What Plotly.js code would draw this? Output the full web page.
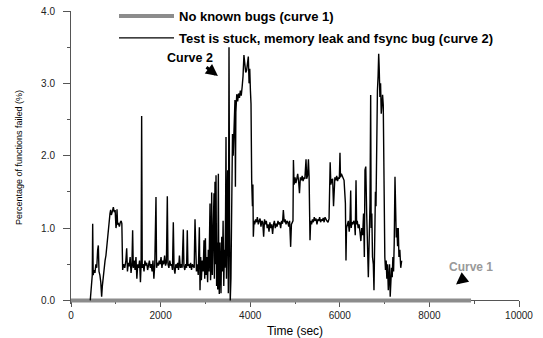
<!DOCTYPE html>
<html>
<head>
<meta charset="utf-8">
<script src="https://cdn.plot.ly/plotly-3.0.1.min.js"></script>
<style>html,body{margin:0;padding:0;background:#fff;}#chart{width:543px;height:338px;}</style>
</head>
<body>
<div id="chart"></div>
<script>
// Curve 1: no known bugs
const curve1Time = [0, 8930];
const curve1Pct = [0, 0];

// Curve 2: test is stuck, memory leak and fsync bug
const curve2Time = [
  430,460,475,484,495,515,535,555,575,595,610,625,645,665,684,700,720,740,760,780,
  800,818,835,855,870,885,900,920,945,965,985,1004,1015,1027,1040,1060,1080,1100,1120,1135,
  1153,1175,1200,1225,1243,1260,1280,1300,1320,1340,1360,1376,1390,1410,1430,1450,1470,1490,1510,1530,
  1550,1565,1577,1590,1610,1630,1650,1670,1690,1710,1730,1750,1770,1790,1810,1830,1850,1870,1897,1910,
  1930,1950,1970,1990,2010,2030,2050,2070,2090,2110,2130,2150,2165,2185,2205,2225,2245,2265,2284,2300,
  2320,2340,2360,2380,2400,2420,2440,2460,2480,2507,2520,2540,2560,2580,2596,2610,2630,2650,2670,2690,
  2710,2730,2750,2768,2785,2800,2820,2840,2865,2880,2895,2910,2930,2950,2969,2985,3000,3015,3030,3050,
  3065,3080,3103,3115,3130,3140,3155,3170,3192,3200,3214,3225,3237,3250,3265,3275,3289,3300,3310,3325,
  3340,3348,3365,3380,3395,3410,3425,3437,3450,3460,3470,3485,3497,3512,3527,3540,3555,3570,3590,3605,
  3620,3640,3660,3670,3680,3700,3720,3740,3760,3780,3800,3820,3840,3860,3880,3900,3920,3940,3958,3975,
  3990,4005,4018,4033,4050,4060,4070,4085,4100,4120,4140,4160,4180,4200,4220,4240,4260,4280,4300,4320,
  4340,4360,4380,4400,4420,4440,4460,4480,4500,4520,4540,4560,4580,4600,4620,4640,4660,4680,4700,4720,
  4740,4760,4780,4800,4820,4840,4860,4880,4903,4920,4940,4955,4965,4980,5000,5020,5040,5060,5080,5100,
  5120,5140,5160,5180,5200,5220,5246,5260,5280,5300,5315,5335,5350,5370,5390,5410,5430,5450,5470,5490,
  5510,5530,5550,5570,5590,5610,5630,5650,5670,5690,5710,5737,5760,5785,5800,5820,5840,5860,5875,5890,
  5910,5930,5950,5970,5990,6004,6015,6035,6055,6075,6095,6110,6125,6138,6150,6170,6190,6210,6225,6243,
  6255,6270,6290,6310,6330,6345,6362,6375,6390,6410,6430,6450,6470,6490,6510,6530,6548,6562,6580,6600,
  6620,6637,6655,6674,6689,6700,6715,6730,6748,6763,6780,6795,6808,6823,6840,6855,6868,6880,6895,6910,
  6925,6940,6955,6970,6994,7005,7020,7035,7050,7065,7083,7095,7110,7125,7140,7155,7170,7185,7200,7215,
  7232,7245,7260,7275,7290,7305,7320,7340,7360,7381
];
const curve2Pct = [
  0.00,0.30,0.35,1.06,0.35,0.42,0.38,0.50,0.45,0.70,0.76,0.40,0.35,0.25,0.05,0.20,0.35,0.45,0.55,0.62,
  0.75,0.97,1.00,1.15,1.20,1.25,1.18,1.22,1.29,1.22,1.25,1.00,1.05,1.26,1.05,1.06,1.02,1.08,1.10,1.06,
  0.42,0.50,0.45,0.55,0.72,0.40,0.52,0.47,0.60,0.38,0.50,0.97,0.45,0.55,0.42,0.60,0.30,0.50,0.45,0.55,
  0.25,0.50,2.55,0.45,0.50,0.40,0.55,0.48,0.52,0.42,0.50,0.55,0.45,0.50,0.40,0.55,0.30,0.50,1.43,0.45,
  0.52,0.48,0.55,0.50,0.60,0.45,0.55,0.50,0.62,0.48,0.52,1.44,0.50,0.45,0.55,0.48,0.50,0.42,1.08,0.45,
  0.37,0.50,0.45,0.52,0.42,0.62,0.45,0.50,0.45,0.98,0.48,0.42,0.50,0.45,0.97,0.48,0.50,0.45,0.52,0.42,
  0.50,0.48,0.45,1.12,0.48,0.40,0.50,0.35,1.01,0.14,0.60,0.28,0.55,0.40,0.83,0.30,0.86,0.35,0.60,0.25,
  0.70,0.40,1.34,0.28,0.50,1.49,0.35,0.80,1.48,0.30,1.64,0.50,1.73,0.20,0.80,0.15,1.75,0.30,0.09,0.80,
  0.30,0.10,0.88,0.40,1.10,0.20,0.70,0.45,1.20,2.26,0.30,1.00,1.80,0.10,3.50,1.00,0.00,0.30,1.50,2.30,
  2.00,2.50,2.77,1.57,2.60,2.85,2.75,2.86,2.80,2.90,2.83,2.95,3.10,3.39,3.25,3.15,3.18,3.30,3.37,3.00,
  3.20,2.90,2.72,1.66,1.30,1.60,0.88,1.10,1.05,1.12,1.08,1.15,1.05,1.10,1.13,1.02,1.10,1.08,0.88,1.12,
  1.05,1.10,1.00,1.05,0.95,1.08,1.00,1.05,0.92,1.05,1.10,1.00,1.06,1.02,1.10,1.05,1.08,1.00,1.10,1.06,
  1.25,1.08,1.12,1.05,1.10,1.08,1.02,1.10,0.74,1.05,1.08,1.10,1.94,1.60,1.70,1.62,1.68,1.75,1.65,1.48,
  1.70,1.66,1.72,1.65,1.70,1.68,1.95,1.68,1.72,1.95,1.70,0.83,1.10,1.05,1.12,1.08,1.15,1.10,1.13,1.05,
  1.12,1.10,1.15,1.08,1.12,1.10,1.14,1.08,1.15,1.12,1.10,1.08,1.13,1.91,1.60,1.66,1.68,1.30,1.65,1.70,
  1.66,1.72,1.65,1.70,1.68,2.04,1.70,1.75,1.72,1.68,1.66,1.50,1.34,0.55,1.00,1.05,1.10,0.95,1.05,1.52,
  1.00,1.08,1.05,1.10,1.06,0.90,1.66,1.05,1.10,1.00,1.05,0.95,0.82,1.00,0.90,1.20,0.60,1.80,1.85,1.20,
  0.60,0.32,0.80,1.34,2.84,1.00,1.20,0.60,0.50,0.14,1.00,1.50,1.30,2.84,2.90,3.10,3.41,3.20,2.81,3.00,
  2.58,2.70,2.84,2.70,0.78,0.60,0.42,0.55,0.30,0.50,0.14,0.40,0.50,0.05,0.30,0.45,0.32,0.60,0.40,0.80,
  1.71,0.90,0.87,1.00,0.75,1.00,0.60,0.70,0.45,0.55
];

const xTickVals = [0, 2000, 4000, 6000, 8000, 10000];
const yTickVals = [0, 1, 2, 3, 4];
const legendNames = ['No known bugs (curve 1)', 'Test is stuck, memory leak and fsync bug (curve 2)'];
const axisTitles = {x: 'Time (sec)', y: 'Percentage of functions failed (%)'};

const FONT = 'Liberation Sans, Arial, sans-serif';

// layout geometry (pixels)
const PAPER_H = 338 - 34;          // margin t = 0, b = 34
const TOP_GAP = 11;                 // plot area starts 11px below the top
const yTop = 1 - TOP_GAP / PAPER_H; // y-axis domain upper bound
const yLow = -0.05, yHigh = 4;

const traces = [
  {
    x: curve1Time, y: curve1Pct, type: 'scatter', mode: 'lines',
    name: legendNames[0], legendgroup: 'g1',
    line: {color: '#8c8c8c', width: 4}
  },
  {
    x: curve2Time, y: curve2Pct, type: 'scatter', mode: 'lines',
    name: legendNames[1], legendgroup: 'g2',
    line: {color: '#000000', width: 1.4}
  }
];

const layout = {
  width: 543, height: 338,
  margin: {l: 71, r: 24, t: 0, b: 34},
  paper_bgcolor: '#ffffff', plot_bgcolor: '#ffffff',
  font: {family: FONT, size: 10, color: '#000'},
  showlegend: true,
  legend: {
    x: (114 - 71) / 448, y: 1 - 1 / PAPER_H, xanchor: 'left', yanchor: 'top',
    bgcolor: 'rgba(0,0,0,0)',
    font: {family: FONT, size: 13, color: '#000', weight: 'bold'},
    traceorder: 'grouped', tracegroupgap: 2,
    itemwidth: 55
  },
  xaxis: {
    range: [0, 10000], anchor: 'free', position: yTop * (-yLow) / (yHigh - yLow),
    tickvals: xTickVals, ticktext: xTickVals.map(String),
    ticks: 'outside', ticklen: 6, tickcolor: '#555', tickwidth: 1,
    minor: {dtick: 1000, ticks: 'outside', ticklen: 3, tickcolor: '#555'},
    showline: true, linecolor: '#555', linewidth: 1,
    showgrid: false, zeroline: false, layer: 'below traces',
    tickfont: {family: FONT, size: 10, color: '#222'},
    title: {text: axisTitles.x, font: {family: FONT, size: 12, color: '#000'}, standoff: 6}
  },
  yaxis: {
    domain: [0, yTop],
    range: [yLow, yHigh],
    tickvals: yTickVals, ticktext: yTickVals.map(v => v.toFixed(1)),
    ticks: 'outside', ticklen: 7, tickcolor: '#555', tickwidth: 1,
    minor: {tickvals: [0.5, 1.5, 2.5, 3.5], ticks: 'outside', ticklen: 3, tickcolor: '#555'},
    showline: true, linecolor: '#555', linewidth: 1,
    showgrid: false, zeroline: false, layer: 'below traces',
    ticklabelstandoff: 6,
    tickfont: {family: FONT, size: 10, color: '#222'},
    title: {text: axisTitles.y, font: {family: FONT, size: 9, color: '#000'}, standoff: 16}
  },
  annotations: [
    {x: 2656, y: 3.35, xref: 'x', yref: 'y', text: '<b>Curve 2</b>', showarrow: false,
     font: {family: FONT, size: 12.5, color: '#000'}},
    {x: 3280, y: 3.1, xref: 'x', yref: 'y', ax: -13, ay: -10, text: '', showarrow: true,
     arrowhead: 2, arrowsize: 0.8, arrowwidth: 3, arrowcolor: '#000'},
    {x: 8929, y: 0.457, xref: 'x', yref: 'y', text: '<b>Curve 1</b>', showarrow: false,
     font: {family: FONT, size: 12, color: '#999'}},
    {x: 8594, y: 0.22, xref: 'x', yref: 'y', ax: 10, ay: -8, text: '', showarrow: true,
     arrowhead: 2, arrowsize: 0.8, arrowwidth: 3, arrowcolor: '#000'}
  ]
};

Plotly.newPlot('chart', traces, layout, {staticPlot: true, displayModeBar: false});
</script>
</body>
</html>
